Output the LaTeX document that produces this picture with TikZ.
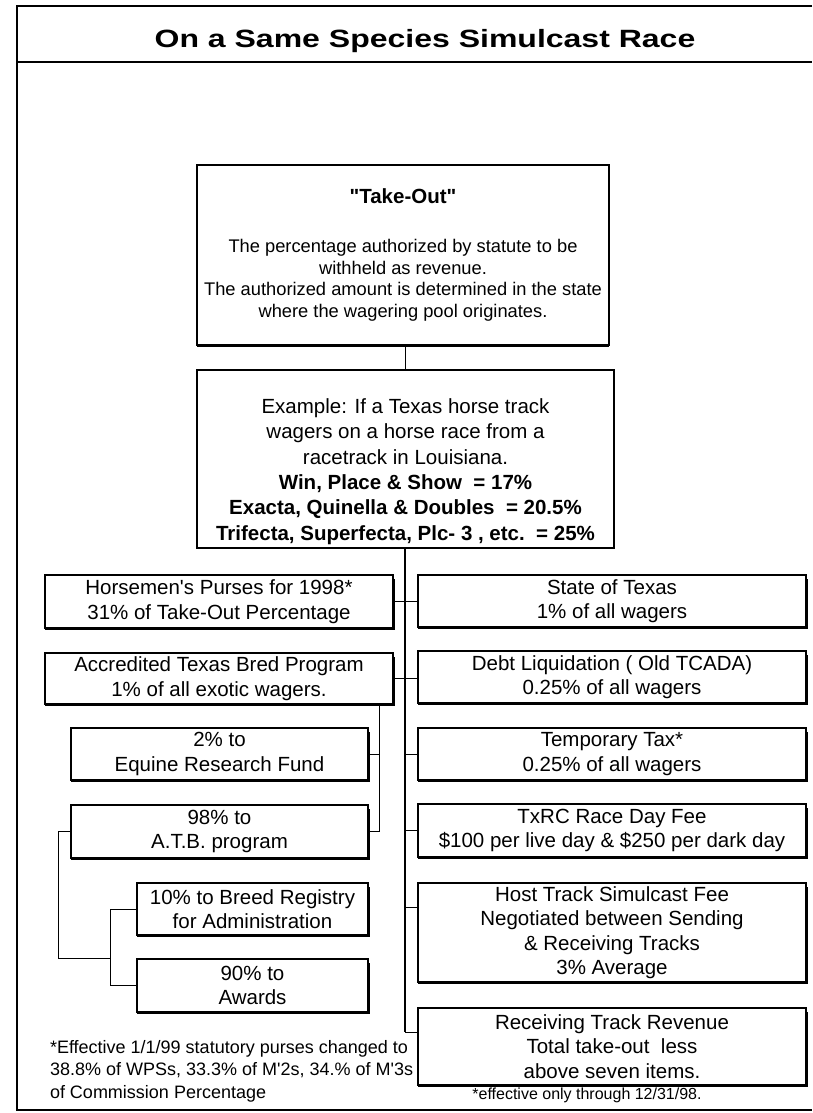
\documentclass[tikz,border=0pt]{standalone}
\usepackage{fontspec}
\usepackage{graphicx}
\setmainfont{Liberation Sans}[Ligatures=TeXOff]
\begin{document}
\begin{tikzpicture}[x=1pt,y=-1pt,
  box/.style={draw, line width=1.1pt, inner sep=0pt, outer sep=0pt, align=center,
    font=\fontsize{20.5}{24.5}\selectfont},
  txt/.style={inner sep=0pt, outer sep=0pt, align=center},
  conn/.style={line width=1pt},
  heavy/.style={line width=3pt, line join=miter},
  frame/.style={line width=2.2pt}
]
\useasboundingbox (0,0) rectangle (812,1113);
% frame and header
\draw[frame] (812,6) -- (17,6) -- (17,1110) -- (812,1110);
\draw[line width=2.5pt] (17,62) -- (812,62);
\node[txt, font=\fontsize{25}{30}\selectfont\bfseries] (title) at (425,41)
  {\scalebox{1.28}[1]{On a Same Species Simulcast Race}};

% top boxes
\node[box, minimum width=412, minimum height=180,
  font=\fontsize{18.3}{21.7}\selectfont] (takeout) at (403,255)
  {{\fontsize{20.5}{21.7}\selectfont\bfseries "Take-Out"}\\[27pt]
   The percentage authorized by statute to be\\
   withheld as revenue.\\
   The authorized amount is determined in the state\\
   where the wagering pool originates.};
\node[box, minimum width=417, minimum height=178] (example) at (405.5,459) {};
\node[txt, font=\fontsize{20.5}{25.4}\selectfont] (extext) at (405.5,471.5)
  {Example: If a Texas horse track\\
   wagers on a horse race from a\\
   racetrack in Louisiana.\\
   \textbf{Win, Place \& Show\ \ = 17\%}\\
   \textbf{Exacta, Quinella \& Doubles\ \ = 20.5\%}\\
   \textbf{Trifecta, Superfecta, Plc- 3 , etc.\ \ = 25\%}};

% left column
\node[box, minimum width=348, minimum height=53] (horse) at (219,601.5)
  {Horsemen's Purses for 1998*\\31\% of Take-Out Percentage};
\node[box, minimum width=348, minimum height=51] (acc) at (219,678.5)
  {Accredited Texas Bred Program\\1\% of all exotic wagers.};
\node[box, minimum width=297, minimum height=52] (equine) at (219.5,754)
  {2\% to\\Equine Research Fund};
\node[box, minimum width=297, minimum height=53] (atb) at (219.5,831.5)
  {98\% to\\A.T.B. program};
\node[box, minimum width=231, minimum height=52] (breed) at (252.5,909)
  {10\% to Breed Registry\\for Administration};
\node[box, minimum width=231, minimum height=53] (awards) at (252.5,985.5)
  {90\% to\\Awards};

% right column
\node[box, minimum width=388, minimum height=52] (state) at (612,601)
  {State of Texas\\1\% of all wagers};
\node[box, minimum width=388, minimum height=52] (debt) at (612,677)
  {Debt Liquidation ( Old TCADA)\\0.25\% of all wagers};
\node[box, minimum width=388, minimum height=52] (temp) at (612,754)
  {Temporary Tax*\\0.25\% of all wagers};
\node[box, minimum width=388, minimum height=53] (txrc) at (612,830.5)
  {TxRC Race Day Fee\\\$100 per live day \& \$250 per dark day};
\node[box, minimum width=388, minimum height=99] (host) at (612,932.5)
  {Host Track Simulcast Fee\\Negotiated between Sending\\\& Receiving Tracks\\3\% Average};
\node[box, minimum width=388, minimum height=77] (recv) at (612,1046.5)
  {Receiving Track Revenue\\Total take-out\ \ less\\above seven items.};

% heavy shadow edges
\foreach \n in {horse,acc,equine,atb,breed,awards,state,debt,temp,txrc,host,recv}
  \draw[heavy] ([yshift=-4pt]\n.north east) -- (\n.south east) -- (\n.south west);
\draw[heavy] (takeout.south west) -- (takeout.south east);

% footnotes
\node[txt, align=left, anchor=west, font=\fontsize{18}{22.5}\selectfont] (fn1) at (50,1071)
  {*Effective 1/1/99 statutory purses changed to\\
   38.8\% of WPSs, 33.3\% of M'2s, 34.\% of M'3s\\
   of Commission Percentage};
\node[txt, font=\fontsize{16}{19}\selectfont] (fn2) at (587,1095)
  {*effective only through 12/31/98.};

% connectors
\coordinate (trunkbot) at (405,1032);
\draw[conn] (takeout.south -| trunkbot) -- (example.north -| trunkbot);
\draw[line width=1.4pt] (example.south -| trunkbot) -- (trunkbot);
\draw[conn] (horse.east) -- (horse.east -| state.west);
\draw[conn] (acc.east) -- (acc.east -| debt.west);
\draw[conn] (temp.west -| trunkbot) -- (temp.west);
\draw[conn] (txrc.west -| trunkbot) -- (txrc.west);
\draw[conn] ([yshift=25.5pt]host.west -| trunkbot) -- ([yshift=25.5pt]host.west);
\draw[conn] (trunkbot) -- ([yshift=14.5pt]recv.west);
\coordinate (accbranch) at (379,704);
\draw[conn] (accbranch) -- (accbranch |- atb.east) -- (atb.east);
\draw[conn] (equine.east) -- (equine.east -| accbranch);
\coordinate (split) at (110,958);
\draw[conn] (atb.west) -- ++(-13,0) |- (split);
\draw[conn] (breed.west) -| (split);
\draw[conn] (awards.west) -| (split);
\end{tikzpicture}
\end{document}
